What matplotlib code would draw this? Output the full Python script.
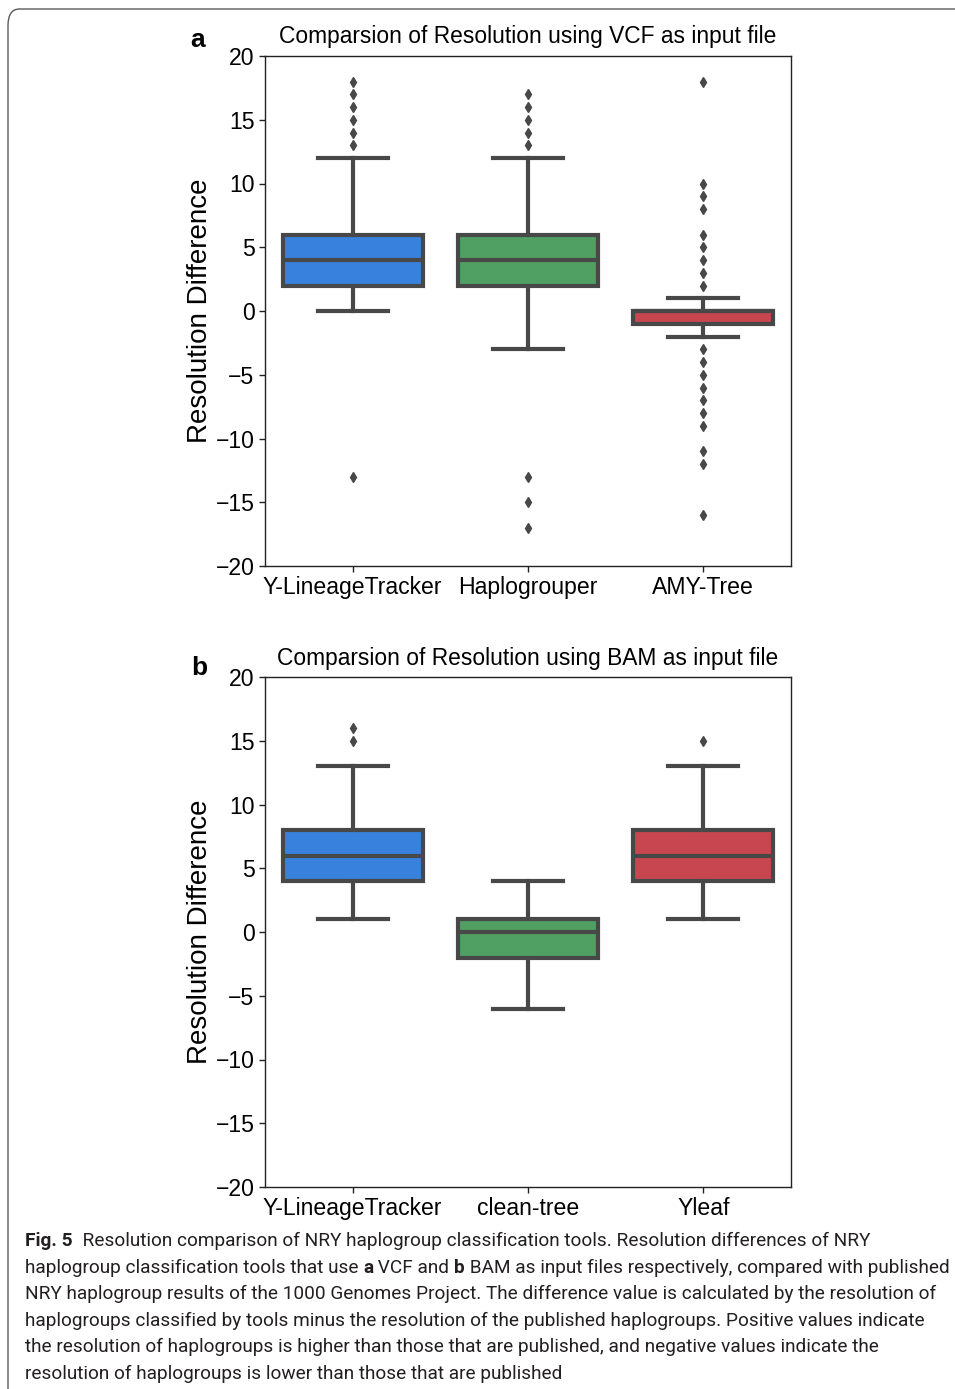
import matplotlib
matplotlib.use("Agg")
import matplotlib.pyplot as plt
from matplotlib import font_manager
from matplotlib.patches import FancyBboxPatch

# ---------------- data ----------------
cats_a = ["Y-LineageTracker", "Haplogrouper", "AMY-Tree"]
q1_a = [2, 2, -1]
med_a = [4, 4, 0]
q3_a = [6, 6, 0]
whislo_a = [0, -3, -2]
whishi_a = [12, 12, 1]
fliers_a = [
    [13, 14, 15, 16, 17, 18, -13],
    [13, 14, 15, 16, 17, -13, -15, -17],
    [18, 10, 9, 8, 6, 5, 4, 3, 2, -3, -4, -5, -6, -7, -8, -9, -11, -12, -16],
]

cats_b = ["Y-LineageTracker", "clean-tree", "Yleaf"]
q1_b = [4, -2, 4]
med_b = [6, 0, 6]
q3_b = [8, 1, 8]
whislo_b = [1, -6, 1]
whishi_b = [13, 4, 13]
fliers_b = [[15, 16], [], [15]]

yticks = [-20, -15, -10, -5, 0, 5, 10, 15, 20]

title_a = "Comparsion of Resolution using VCF as input file"
title_b = "Comparsion of Resolution using BAM as input file"
ylabel = "Resolution Difference"

caption_lines = [
    [("Fig. 5", "bold"), ("  Resolution comparison of NRY haplogroup classification tools. Resolution differences of NRY", "normal")],
    [("haplogroup classification tools that use ", "normal"), ("a", "bold"), (" VCF and ", "normal"), ("b", "bold"),
     (" BAM as input files respectively, compared with published", "normal")],
    [("NRY haplogroup results of the 1000 Genomes Project. The difference value is calculated by the resolution of", "normal")],
    [("haplogroups classified by tools minus the resolution of the published haplogroups. Positive values indicate", "normal")],
    [("the resolution of haplogroups is higher than those that are published, and negative values indicate the", "normal")],
    [("resolution of haplogroups is lower than those that are published", "normal")],
]

colors = {
    "a": ["#3882de", "#50a064", "#c8464f"],
    "b": ["#3882de", "#50a064", "#c8464f"],
}

# ---------------- figure ----------------
W, H = 955, 1389
plt.rcParams["font.family"] = ["Liberation Sans", "DejaVu Sans"]
fig = plt.figure(figsize=(W / 100, H / 100), dpi=100)

# card border
border = FancyBboxPatch((8 / W, -0.05), 1.1, 1 - 9 / H + 0.05,
                        boxstyle="round,pad=0,rounding_size=0.012",
                        transform=fig.transFigure, fill=False,
                        edgecolor="#5a5a5a", linewidth=1.0, clip_on=False)
fig.patches.append(border)

EDGE = "#484848"


def make_panel(rect, cats, q1, med, q3, lo, hi, fl, cols, title):
    ax = fig.add_axes(rect)
    stats = []
    for i in range(len(cats)):
        stats.append(dict(label=cats[i], q1=q1[i], med=med[i], q3=q3[i],
                          whislo=lo[i], whishi=hi[i], fliers=fl[i]))
    bp = ax.bxp(stats, positions=range(len(cats)), widths=0.8,
                patch_artist=True, showfliers=True,
                boxprops=dict(edgecolor=EDGE, linewidth=3.0),
                medianprops=dict(color=EDGE, linewidth=3.0),
                whiskerprops=dict(color=EDGE, linewidth=3.0),
                capprops=dict(color=EDGE, linewidth=3.0),
                flierprops=dict(marker="d", markerfacecolor=EDGE,
                                markeredgecolor=EDGE, markersize=5,
                                linestyle="none"),
                capwidths=0.4)
    for patch, c in zip(bp["boxes"], cols):
        patch.set_facecolor(c)
    ax.set_xlim(-0.5, len(cats) - 0.5)
    ax.set_ylim(-20, 20)
    ax.set_yticks(yticks)
    ax.set_xticks(range(len(cats)))
    ax.set_xticklabels(cats)
    ax.tick_params(axis="both", labelsize=16.6, length=4, width=1, color="#222222")
    ax.tick_params(axis="x", pad=3)
    for s in ax.spines.values():
        s.set_linewidth(1.0)
        s.set_color("#222222")
    ax.set_title(title, fontsize=16.4, pad=9)
    ax.set_ylabel(ylabel, fontsize=20, labelpad=2)
    return ax


axw = (791 - 265) / W
axh = (566 - 56) / H
ax_a = make_panel([265 / W, 1 - 566 / H, axw, axh], cats_a, q1_a, med_a, q3_a,
                  whislo_a, whishi_a, fliers_a, colors["a"], title_a)
ax_b = make_panel([265 / W, 1 - 1187 / H, axw, axh], cats_b, q1_b, med_b, q3_b,
                  whislo_b, whishi_b, fliers_b, colors["b"], title_b)

fig.text(198 / W, 1 - 40 / H, "a", fontsize=19, fontweight="bold", ha="center", va="center")
fig.text(199 / W, 1 - 668 / H, "b", fontsize=19, fontweight="bold", ha="center", va="center")

# ---------------- caption ----------------
names = {f.name for f in font_manager.fontManager.ttflist}
cap_family = None
for cand in ["Liberation Sans Narrow", "Roboto", "Open Sans", "Lato", "Noto Sans"]:
    if cand in names:
        cap_family = cand
        break
if cap_family is None:
    cap_family = "DejaVu Sans"

renderer = fig.canvas.get_renderer()


def run_width(text, weight, size):
    prop = font_manager.FontProperties(family=[cap_family], weight=weight, size=size)
    w1, _, _ = renderer.get_text_width_height_descent("X" + text + "X", prop, ismath=False)
    w0, _, _ = renderer.get_text_width_height_descent("XX", prop, ismath=False)
    return w1 - w0


def line_width(runs, size):
    return sum(run_width(t, wt, size) for t, wt in runs)


ref = 10.0
target = 952 - 25
cap_size = ref * target / line_width(caption_lines[1], ref)

y0 = 1246
dy = 26.6
for i, runs in enumerate(caption_lines):
    x = 25.0
    y = y0 + i * dy
    for t, wt in runs:
        fig.text(x / W, 1 - y / H, t, fontsize=cap_size, fontweight=wt,
                 family=[cap_family], ha="left", va="baseline", color="#231f20")
        x += run_width(t, wt, cap_size)

fig.savefig("out.png", dpi=100)
